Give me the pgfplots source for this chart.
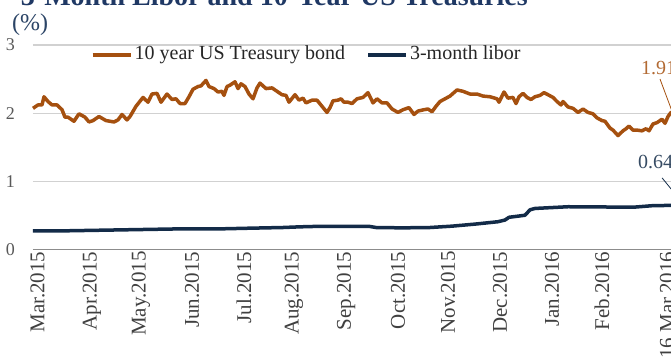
\documentclass[border=0pt]{standalone}
\usepackage{pgfplots}
\pgfplotsset{compat=1.18}
\usepackage{fontspec}
\setmainfont{Liberation Serif}
\usetikzlibrary{arrows.meta}
\definecolor{tsy}{HTML}{A5500F}
\definecolor{lib}{HTML}{132B48}
\definecolor{ttl}{HTML}{1F3864}
\definecolor{pct}{HTML}{2B4466}
\pgfplotstableread{
x v
33 2.07
38 2.12
42 2.12
44 2.24
48 2.17
52 2.12
57 2.12
62 2.05
65 1.94
68 1.94
74 1.88
79 1.99
85 1.94
89 1.87
93 1.89
99 1.95
106 1.89
114 1.87
118 1.90
122 1.98
127 1.90
130 1.95
136 2.10
143 2.23
148 2.16
152 2.28
157 2.29
161 2.16
167 2.28
172 2.20
176 2.21
180 2.14
185 2.14
189 2.24
193 2.35
198 2.39
201 2.40
206 2.48
209 2.39
214 2.36
218 2.31
222 2.32
224 2.26
227 2.39
230 2.41
235 2.46
238 2.36
241 2.43
245 2.39
249 2.28
253 2.21
257 2.37
260 2.44
266 2.36
272 2.37
277 2.32
282 2.27
286 2.26
289 2.16
295 2.27
299 2.19
303 2.22
306 2.15
312 2.19
317 2.19
322 2.10
327 2.01
330 2.08
333 2.18
338 2.19
341 2.21
344 2.16
348 2.16
352 2.14
357 2.21
363 2.23
368 2.30
373 2.15
377 2.21
382 2.15
387 2.15
392 2.06
398 2.01
403 2.05
409 2.08
414 1.98
418 2.03
424 2.05
428 2.06
432 2.02
436 2.10
440 2.17
445 2.21
450 2.25
457 2.34
463 2.32
470 2.28
477 2.28
483 2.25
490 2.24
497 2.21
499 2.16
504 2.31
508 2.22
513 2.23
516 2.14
519 2.24
523 2.29
527 2.23
531 2.20
535 2.24
540 2.26
544 2.30
548 2.27
553 2.23
557 2.17
561 2.12
563 2.17
568 2.09
573 2.07
578 2.01
583 2.06
588 2.01
593 1.99
597 1.93
602 1.89
605 1.88
610 1.78
613 1.75
618 1.67
623 1.74
626 1.77
629 1.81
633 1.75
637 1.75
642 1.74
646 1.77
649 1.74
653 1.84
657 1.86
662 1.91
665 1.85
668 1.95
671 2.01
674 1.96
677 1.91
}\tsydata
\pgfplotstableread{
x v
33 0.27
60 0.27
100 0.28
140 0.29
180 0.30
220 0.30
250 0.31
283 0.32
300 0.33
313 0.335
333 0.335
370 0.335
376 0.32
402 0.315
430 0.32
452 0.34
475 0.37
498 0.405
505 0.43
509 0.47
525 0.50
530 0.58
535 0.60
568 0.625
618 0.62
635 0.62
652 0.64
671 0.645
677 0.64
}\libdata
\begin{document}
\begin{tikzpicture}
\path[use as bounding box] (0pt,0pt) rectangle (671pt,362pt);
\begin{axis}[
  at={(33pt,112.7pt)}, anchor=south west,
  scale only axis, width=657pt, height=204.3pt,
  xmin=33, xmax=690, ymin=0, ymax=3,
  axis lines*=left,
  y axis line style={draw=none},
  x axis line style={draw=black!45, line width=1pt},
  major tick length=0pt,
  ymajorgrids, grid style={draw=black!18, line width=1.2pt},
  ytick={0,1,2,3},
  xtick={37.5,92,141,192,244,294,346,398,448,500,552,602,667},
  xticklabels={Mar.2015,Apr.2015,May.2015,Jun.2015,Jul.2015,Aug.2015,Sep.2015,Oct.2015,Nov.2015,Dec.2015,Jan.2016,Feb.2016,16.Mar.2016},
  /pgf/number format/assume math mode=true,
  yticklabel style={font=\fontsize{18}{20}\selectfont, text=black!65, anchor=east, inner sep=0pt},
  yticklabel shift=18pt,
  xticklabel style={font=\fontsize{21}{24}\selectfont, text=black!75, rotate=90, anchor=east, inner sep=0pt},
  xticklabel shift=2pt,
  legend style={at={(axis description cs:0.0875,0.958)}, anchor=west, legend columns=2, draw=none, fill=none, inner sep=0pt,
    font=\fontsize{20}{24}\selectfont, text=black!85,
    /tikz/every even column/.append style={column sep=19pt}},
  legend image code/.code={\draw[#1,line width=4pt] (0pt,-1.5pt) -- (38pt,-1.5pt);},
  clip=false,
]
\addplot[tsy, line width=3.5pt, line join=round] table[x=x,y=v] {\tsydata};
\addlegendentry{10 year US Treasury bond}
\addplot[lib, line width=3.5pt, line join=round] table[x=x,y=v] {\libdata};
\addlegendentry{3-month libor}
\node[anchor=base west, inner sep=0pt, text=tsy!85!white, font=\fontsize{20}{24}\selectfont] at (axis cs:641,2.56) {1.91};
\draw[tsy, line width=0.8pt, -{Latex[length=4pt,width=3pt]}] (axis cs:660,2.50) -- (axis cs:674,1.95);
\node[anchor=base west, inner sep=0pt, text=lib!85!white, font=\fontsize{20}{24}\selectfont] at (axis cs:638,1.18) {0.64};
\draw[lib, line width=0.8pt, -{Latex[length=4pt,width=3pt]}] (axis cs:662,1.05) -- (axis cs:677,0.78);
\end{axis}
\node[anchor=base east, inner sep=0pt, text=ttl, font=\fontsize{28}{32}\selectfont\bfseries] at (528pt,356pt) {3-Month Libor and 10-Year US Treasuries};
\node[anchor=base west, inner sep=0pt, text=pct, font=\fontsize{24}{28}\selectfont] at (12pt,331pt) {(\%)};
\end{tikzpicture}
\end{document}
